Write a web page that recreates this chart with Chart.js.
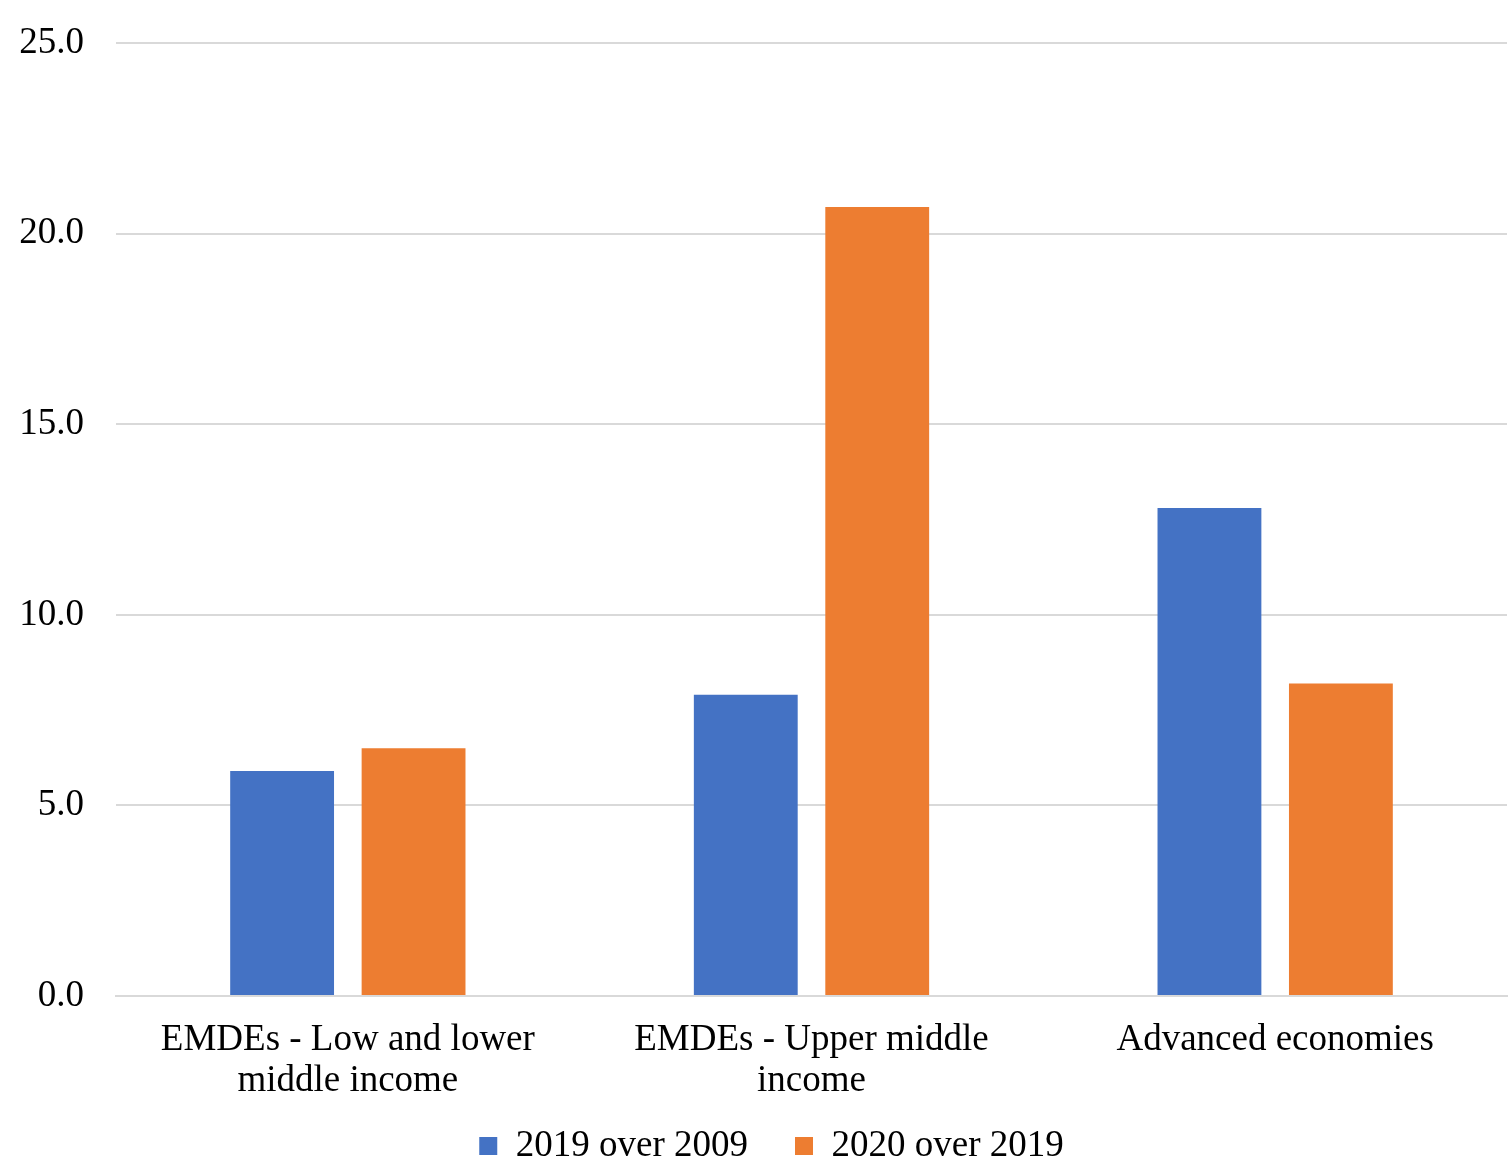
<!DOCTYPE html>
<html>
<head>
<meta charset="utf-8">
<script src="https://cdn.jsdelivr.net/npm/chart.js@4"></script>
<style>
  html, body { margin: 0; padding: 0; background: #ffffff; }
  #wrap { width: 1511px; height: 1168px; }
</style>
</head>
<body>
<div id="wrap"><canvas id="chart"></canvas></div>
<script>
// Income groups on the category axis
const categories = [
  ["EMDEs - Low and lower", "middle income"],
  ["EMDEs - Upper middle", "income"],
  "Advanced economies"
];
// Growth of each group, two comparison periods
const series2019over2009 = [5.9, 7.9, 12.8];
const series2020over2019 = [6.5, 20.7, 8.2];
const seriesNames = ["2019 over 2009", "2020 over 2019"];
const yTicks = [0, 5, 10, 15, 20, 25];

const FONT = "'Liberation Serif', 'Times New Roman', serif";
const FONT_SIZE = 37;

// Nudges the legend row sideways after the layout pass
const legendShift = {
  id: "legendShift",
  afterLayout(chart) {
    const lg = chart.legend;
    if (lg) { lg.left += 18; lg.right += 18; }
  }
};

const baseLabels = Chart.defaults.plugins.legend.labels.generateLabels;

new Chart(document.getElementById("chart"), {
  type: "bar",
  data: {
    labels: categories,
    datasets: [
      { label: seriesNames[0], data: series2019over2009, backgroundColor: "#4472C4" },
      { label: seriesNames[1], data: series2020over2019, backgroundColor: "#ED7D31" }
    ]
  },
  plugins: [legendShift],
  options: {
    responsive: true,
    maintainAspectRatio: false,
    animation: false,
    layout: { padding: { top: 43, right: 4, left: 0, bottom: -6.5 } },
    datasets: { bar: { categoryPercentage: 0.567, barPercentage: 0.79 } },
    plugins: {
      legend: {
        position: "bottom",
        labels: {
          font: { family: FONT, size: FONT_SIZE },
          color: "#000000",
          boxWidth: 18,
          boxHeight: 18,
          padding: 10,
          // extra room after the first entry so the two items sit further apart
          generateLabels: (chart) => {
            const items = baseLabels(chart);
            if (items.length) items[0].text = items[0].text + "    ";
            return items;
          }
        }
      },
      tooltip: { enabled: false }
    },
    scales: {
      x: {
        grid: { display: false },
        border: { color: "#d9d9d9", width: 2 },
        afterFit: (axis) => { axis.height = 121.5; },
        ticks: {
          font: { family: FONT, size: FONT_SIZE, lineHeight: 1.11 },
          color: "#000000",
          padding: 16,
          maxRotation: 0
        }
      },
      y: {
        min: 0,
        max: 25,
        afterBuildTicks: (axis) => { axis.ticks = yTicks.map(v => ({ value: v })); },
        afterFit: (axis) => { axis.width = 116; axis.paddingTop = 0; },
        grid: { color: "#d9d9d9", lineWidth: 2, drawTicks: false },
        border: { display: false },
        ticks: {
          font: { family: FONT, size: FONT_SIZE },
          color: "#000000",
          padding: 32,
          callback: (v) => Number(v).toFixed(1)
        }
      }
    }
  }
});
</script>
</body>
</html>
